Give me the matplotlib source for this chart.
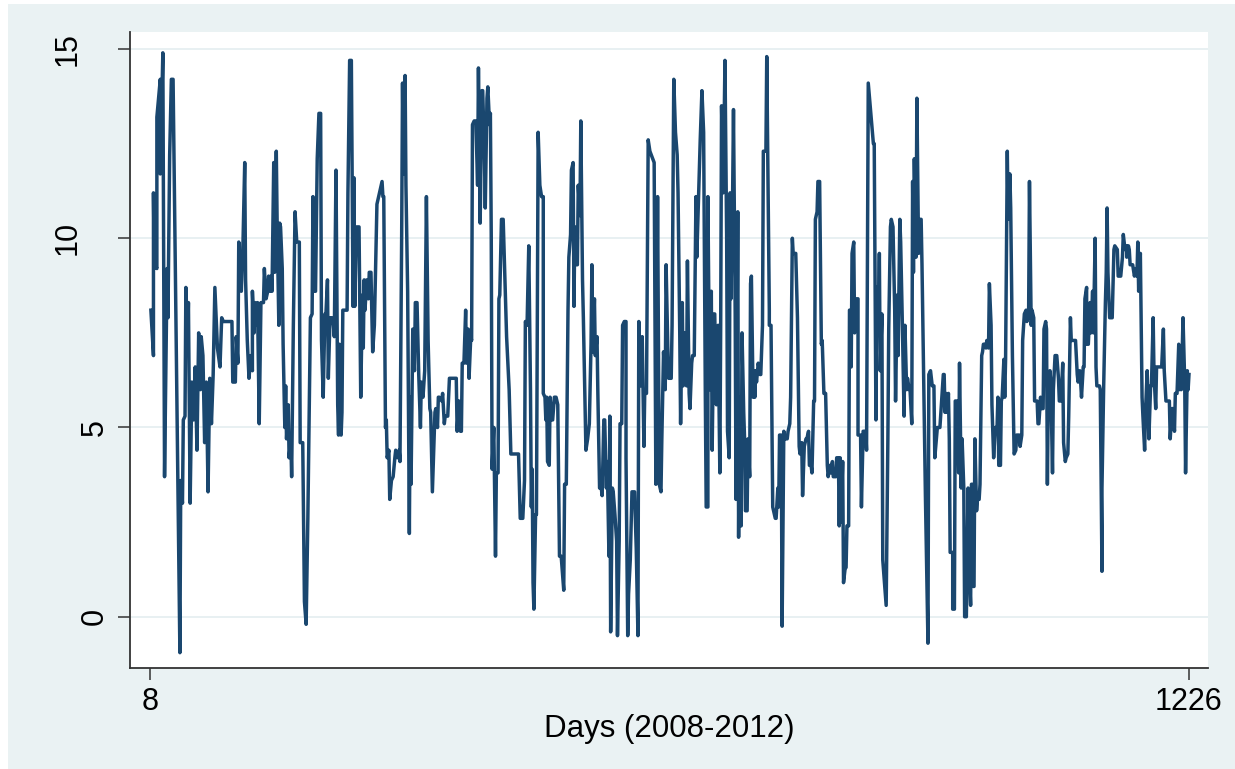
import matplotlib
matplotlib.use("Agg")
import matplotlib.pyplot as plt
from matplotlib.patches import Rectangle

plt.rcParams['font.family'] = ['Liberation Sans', 'DejaVu Sans']

# values, split by stretch of days
days_a = [9, 12, 12, 13, 14, 16, 16, 20, 20, 23, 25, 28, 29, 31, 33, 35, 43, 44, 46, 47,
          49, 50, 52, 53, 55, 57, 59, 61, 63, 65, 67, 68, 70, 72, 74, 76, 78, 80, 82, 84,
          87, 90, 92, 94, 104, 105, 108, 109, 111, 112]
vals_a = [8.1, 6.9, 11.2, 9.2, 9.3, 9.2, 13.2, 14.2, 11.7, 14.9, 3.7, 9.2, 7.9, 12.2, 14.2, 14.2, -0.95, 3.6, 3.0, 5.2,
          5.3, 8.7, 7.4, 8.3, 3.0, 6.2, 5.2, 6.6, 4.4, 7.5, 6.0, 7.4, 6.9, 4.6, 6.2, 3.3, 6.3, 5.1, 6.4, 8.7,
          7.1, 6.6, 7.9, 7.8, 7.8, 6.2, 6.2, 7.4, 6.7, 9.9]

days_b = [115, 117, 119, 120, 122, 124, 126, 128, 128, 130, 131, 133, 134, 136, 138, 141, 142, 144, 146, 147,
          149, 150, 151, 153, 154, 156, 157, 159, 160, 161, 163, 164, 166, 167, 168, 170, 171, 173, 174, 176,
          178, 180, 183, 184, 187, 189, 191, 193, 196, 198, 199, 200, 202, 204, 206, 208, 209, 211, 213, 214,
          216, 217, 219, 221, 223, 224, 226, 228, 229, 230]
vals_b = [8.6, 9.9, 12.0, 8.9, 7.3, 6.3, 6.9, 6.5, 8.6, 7.5, 8.3, 7.7, 8.3, 5.1, 8.3, 8.3, 9.2, 8.4, 8.6, 9.0,
          8.6, 9.0, 8.6, 12.0, 9.1, 12.3, 10.4, 7.7, 10.4, 10.3, 9.2, 7.2, 5.0, 6.1, 4.7, 5.6, 4.2, 4.7, 3.7, 7.7,
          10.7, 9.9, 9.9, 4.6, 4.6, 0.4, -0.2, 2.6, 7.9, 8.0, 11.1, 8.6, 8.6, 12.1, 13.3, 13.3, 7.3, 5.8, 8.0, 7.9,
          8.9, 6.3, 7.9, 7.9, 7.7, 7.4, 11.8, 5.6, 4.8, 7.2]

days_c = [232, 233, 234, 239, 240, 242, 244, 246, 247, 248, 250, 253, 255, 257, 258, 259, 260, 262, 264, 265,
          267, 269, 271, 274, 276, 278, 280, 281, 282, 284, 285, 286, 288, 289, 291, 293, 295, 296, 298, 300,
          301, 303, 304, 305, 307, 308, 310, 312, 313, 314, 316, 318, 319, 321, 323, 325, 326, 328, 330, 332,
          334, 336, 337, 339, 342, 343, 345, 346, 347]
vals_c = [4.8, 5.4, 8.1, 8.1, 11.2, 14.7, 14.7, 8.2, 11.6, 8.2, 10.3, 10.3, 5.8, 8.5, 7.1, 8.9, 8.1, 8.9, 8.4, 9.1,
          9.1, 7.0, 7.7, 10.9, 11.1, 11.3, 11.5, 11.1, 11.1, 5.0, 5.2, 4.2, 4.4, 3.1, 3.6, 3.7, 4.2, 4.4, 4.2, 4.4,
          4.1, 10.1, 14.1, 11.7, 14.3, 11.4, 8.6, 2.2, 5.8, 3.5, 7.6, 6.5, 8.3, 8.3, 6.4, 5.0, 6.2, 5.8, 6.5, 11.1,
          7.3, 5.5, 5.4, 3.3, 5.4, 5.5, 5.0, 5.8, 5.8]

days_d = [350, 351, 353, 354, 357, 359, 362, 367, 368, 370, 372, 373, 374, 376, 378, 379, 381, 382, 384, 385,
          386, 388, 390, 392, 393, 395, 397, 398, 400, 401, 403, 404, 406, 407, 408, 409, 411, 413, 414, 416,
          417, 418, 420, 422, 426, 429, 431, 434, 440, 442, 445, 447, 448, 450, 452, 454, 455, 456, 457, 458,
          460, 461, 463, 465]
vals_d = [5.7, 5.9, 5.1, 5.3, 5.3, 6.3, 6.3, 6.3, 4.9, 5.7, 4.9, 4.9, 6.7, 6.7, 8.1, 6.7, 7.6, 6.3, 7.4, 7.3,
          13.0, 13.1, 13.1, 11.4, 14.5, 10.4, 13.9, 13.9, 12.2, 10.8, 13.7, 14.0, 13.0, 13.3, 10.1, 3.9, 5.0, 1.6, 3.8, 3.8,
          8.4, 8.5, 10.5, 10.5, 7.4, 6.0, 4.3, 4.3, 4.3, 2.6, 2.6, 3.6, 7.8, 7.7, 9.8, 6.0, 2.9, 3.9, 0.9, 0.2,
          2.7, 2.7, 12.8, 11.4]

days_e = [467, 469, 469, 471, 472, 473, 474, 476, 477, 479, 480, 482, 484, 486, 488, 490, 493, 494, 496, 498,
          499, 501, 502, 504, 505, 506, 508, 509, 510, 512, 513, 515, 516, 518, 519, 521, 523, 525, 526, 527,
          529, 530, 532, 533, 535, 537, 538, 540, 541, 543, 544, 546, 547, 548, 550, 551, 553, 555, 556, 558,
          559, 561, 562, 564, 566, 566, 568, 569, 571, 573, 576, 578, 580, 581]
vals_e = [11.1, 11.1, 5.9, 5.8, 5.2, 5.8, 4.1, 4.0, 5.8, 5.2, 5.2, 5.8, 5.8, 5.6, 1.6, 1.6, 0.7, 3.5, 3.5, 8.1,
          9.5, 10.1, 11.8, 12.0, 8.2, 10.3, 9.3, 9.3, 11.4, 10.6, 13.1, 8.9, 7.9, 5.6, 4.4, 4.7, 5.1, 7.2, 9.3, 7.0,
          8.4, 6.9, 7.4, 5.9, 3.4, 3.4, 3.2, 5.2, 5.2, 3.4, 4.1, 1.6, 5.3, -0.4, 3.4, 3.3, 2.7, 2.0, -0.5, 2.0,
          5.1, 5.1, 7.7, 7.8, 7.8, 4.2, -0.5, 0.6, 1.5, 3.3, 3.3, 1.8, -0.5, 7.8]

days_f = [583, 585, 587, 588, 590, 592, 594, 599, 601, 603, 605, 607, 608, 610, 612, 613, 615, 616, 619, 620,
          622, 624, 626, 627, 629, 630, 632, 633, 635, 637, 638, 640, 641, 643, 644, 646, 648, 649, 651, 653,
          655, 657, 659, 660, 662, 662, 664, 666, 667, 669, 670, 672, 673, 674, 676, 677, 678, 680, 682, 684,
          685, 687, 688, 689, 691, 692, 694, 695, 697, 698, 699]
vals_f = [6.1, 7.4, 4.5, 6.0, 5.9, 12.6, 12.3, 12.0, 3.5, 11.1, 3.5, 3.3, 4.7, 7.0, 6.0, 9.3, 7.1, 6.3, 6.3, 7.7,
          14.2, 12.8, 12.2, 11.2, 7.5, 5.1, 8.3, 6.1, 7.5, 6.1, 9.4, 5.9, 5.5, 6.7, 6.9, 6.9, 11.1, 9.5, 11.1, 12.6,
          13.9, 12.8, 5.8, 2.9, 2.9, 11.1, 6.0, 8.6, 4.4, 8.0, 8.0, 5.6, 7.2, 7.7, 3.8, 7.7, 13.5, 11.2, 14.7, 10.0,
          4.9, 4.2, 11.2, 8.4, 11.2, 13.4, 8.0, 3.1, 10.7, 2.1, 5.8]

days_g = [701, 702, 704, 705, 706, 708, 709, 711, 712, 713, 715, 716, 717, 718, 719, 721, 723, 724, 726, 727,
          730, 731, 734, 734, 736, 738, 741, 742, 744, 745, 746, 748, 749, 751, 752, 755, 756, 758, 759, 761,
          762, 765, 767, 769, 770, 772, 773, 775, 777, 778, 780, 781, 783, 784, 786, 787, 788, 790, 791, 793,
          795, 796, 798, 800, 802, 803, 805, 806, 808, 809, 812, 813, 815, 816]
vals_g = [2.4, 7.5, 5.4, 4.7, 2.8, 2.8, 4.7, 3.7, 8.8, 9.0, 5.8, 6.5, 5.8, 6.5, 6.2, 6.7, 6.4, 6.4, 7.7, 12.3,
          12.3, 14.8, 8.1, 7.7, 7.7, 2.9, 2.6, 2.6, 3.4, 2.9, 4.8, 4.8, -0.25, 4.9, 4.7, 4.7, 4.9, 5.1, 5.8, 10.0,
          9.6, 9.6, 7.9, 4.5, 4.3, 4.6, 3.2, 4.5, 4.7, 4.7, 4.9, 4.0, 4.0, 3.8, 5.7, 5.7, 10.5, 10.7, 11.5, 11.5,
          7.2, 7.3, 5.9, 5.9, 4.0, 3.7, 4.0, 3.8, 4.1, 3.7, 3.7, 4.2, 4.2, 2.4]

days_h = [817, 818, 820, 821, 823, 824, 825, 827, 828, 830, 830, 831, 833, 834, 836, 838, 838, 841, 842, 844,
          845, 847, 848, 850, 853, 856, 857, 859, 860, 862, 863, 864, 866, 867, 870, 871, 873, 874, 876, 877,
          879, 881, 882, 884, 885, 887, 888, 890, 892, 893, 895, 896, 898, 899, 901, 902, 903, 904, 906, 907,
          909, 910, 912, 913, 915, 917, 920, 921, 923, 925, 927, 928, 931, 934]
vals_h = [4.2, 2.5, 4.1, 0.9, 1.3, 1.3, 2.4, 2.4, 8.1, 8.1, 6.6, 9.6, 9.9, 7.5, 8.4, 8.4, 4.8, 4.8, 2.9, 4.9,
          4.9, 4.9, 4.4, 14.1, 13.3, 12.5, 12.5, 5.2, 8.7, 7.9, 9.6, 6.5, 8.0, 1.5, 0.6, 0.3, 4.7, 7.6, 10.3, 10.5,
          10.3, 8.1, 5.7, 8.5, 6.9, 10.5, 9.9, 7.7, 5.3, 7.7, 6.0, 6.3, 6.0, 6.0, 5.1, 11.5, 9.1, 12.1, 9.5, 13.7,
          9.6, 10.5, 10.5, 9.3, 6.2, 3.2, -0.7, 6.4, 6.5, 6.1, 6.1, 4.2, 5.0, 5.0]

days_i = [938, 939, 940, 941, 942, 944, 945, 946, 949, 949, 951, 952, 954, 956, 957, 959, 960, 962, 963, 965,
          967, 968, 970, 971, 972, 973, 974, 975, 977, 978, 980, 981, 983, 984, 985, 987, 988, 989, 991, 992,
          994, 995, 997, 999, 1001, 1002, 1003, 1005, 1006, 1007, 1009, 1010, 1011, 1013, 1014, 1016, 1017, 1019, 1021, 1023,
          1024, 1027, 1028, 1030, 1031, 1033, 1035, 1036, 1038, 1039, 1041, 1042, 1044, 1045, 1048, 1049, 1050, 1052, 1053, 1055,
          1056, 1058, 1059, 1060, 1061, 1063, 1064, 1066, 1067, 1069, 1071, 1073, 1074, 1076, 1078, 1079, 1081, 1082, 1084, 1085,
          1087, 1088, 1091, 1093, 1095, 1096, 1098, 1099, 1100, 1102, 1103, 1104, 1106, 1106, 1108, 1110, 1111, 1113, 1114, 1116,
          1117, 1118, 1121, 1122, 1124, 1124, 1126, 1128, 1129, 1130, 1131, 1133, 1136, 1138, 1139, 1142, 1143, 1146, 1148, 1149,
          1151, 1153, 1153, 1155, 1156, 1157, 1160, 1162, 1164, 1165, 1166, 1167, 1169, 1171, 1172, 1174, 1175, 1177, 1179, 1181,
          1182, 1184, 1185, 1187, 1188, 1191, 1192, 1194, 1196, 1197, 1199, 1203, 1204, 1206, 1207, 1209, 1210, 1212, 1214, 1215,
          1216, 1217, 1219, 1221, 1222, 1224, 1225, 1226]
vals_i = [6.4, 6.4, 5.4, 5.9, 5.4, 5.9, 4.7, 1.7, 1.7, 0.2, 0.2, 5.7, 5.7, 3.8, 6.7, 3.4, 4.7, 3.4, 0.0, 0.0,
          3.4, 1.5, 0.3, 3.5, 3.5, 0.8, 0.8, 4.7, 2.8, 3.1, 3.1, 3.5, 6.9, 7.0, 7.2, 7.2, 7.1, 7.3, 7.1, 8.8,
          7.7, 5.6, 4.2, 5.0, 5.0, 5.8, 4.0, 4.0, 5.7, 5.8, 6.8, 5.8, 6.8, 12.3, 10.5, 11.7, 10.8, 6.9, 4.3, 4.4,
          4.8, 4.8, 4.5, 4.8, 7.3, 8.0, 8.1, 7.8, 8.0, 11.5, 7.7, 8.1, 7.9, 5.7, 5.7, 5.1, 5.1, 5.8, 5.5, 5.5,
          7.6, 7.8, 7.6, 3.5, 5.7, 6.5, 6.2, 3.8, 6.0, 6.9, 6.9, 6.3, 5.7, 5.7, 6.7, 4.6, 4.1, 4.2, 4.3, 5.3,
          7.9, 7.3, 7.3, 7.3, 6.4, 6.2, 6.5, 6.2, 5.8, 6.6, 6.6, 8.4, 8.7, 7.2, 7.2, 8.3, 7.5, 8.6, 7.5, 10.0,
          6.6, 6.1, 6.1, 6.0, 1.2, 3.4, 6.1, 8.3, 9.1, 10.8, 9.1, 7.9, 7.9, 9.7, 9.8, 9.7, 9.0, 9.0, 9.5, 10.1,
          9.7, 9.8, 9.5, 9.8, 9.7, 9.3, 9.3, 9.0, 9.2, 9.0, 9.9, 8.6, 9.6, 5.8, 5.3, 4.4, 5.4, 6.5, 4.7, 6.1,
          6.1, 7.9, 6.4, 5.5, 6.6, 6.6, 6.6, 6.6, 7.6, 6.5, 5.7, 5.7, 4.7, 5.5, 5.5, 4.9, 5.9, 5.9, 7.2, 6.0,
          7.1, 6.0, 7.9, 6.2, 3.8, 6.5, 6.0, 6.4]

y_ticks = [0, 5, 10, 15]
x_ticks = [8, 1226]
x_title = 'Days (2008-2012)'

days, values = [], []
for d, v in [(days_a, vals_a), (days_b, vals_b), (days_c, vals_c), (days_d, vals_d), (days_e, vals_e),
             (days_f, vals_f), (days_g, vals_g), (days_h, vals_h), (days_i, vals_i)]:
    assert len(d) == len(v), (len(d), len(v), d[0])
    days += d
    values += v

fig = plt.figure(figsize=(12.35, 7.69), dpi=100, facecolor='white')
fig.patches.append(Rectangle((8 / 1235, 0), 1, 765 / 769, transform=fig.transFigure,
                             facecolor='#EAF2F3', edgecolor='none', zorder=-1))

ax = fig.add_axes([130 / 1235, 101 / 769, 1078 / 1235, 636 / 769])
ax.set_facecolor('white')
ax.plot(days, values, color='#1A476F', lw=2.5, solid_joinstyle='round', zorder=3)

ax.set_xlim(-15.5, 1248.3)
ax.set_ylim(-1.355, 15.45)

for s in ['top', 'right']:
    ax.spines[s].set_visible(False)
for s in ['left', 'bottom']:
    ax.spines[s].set_color('#333333')
    ax.spines[s].set_linewidth(1.3)

ax.set_yticks(y_ticks)
ax.set_yticklabels([])
ax.yaxis.grid(True, color='#E6EFF1', lw=1.3, zorder=0)
ax.tick_params(axis='y', length=8.6, width=1.1, color='#333333', direction='out')
# Stata-like rotated y labels: longer labels sit further left
for t in y_ticks:
    lbl = str(t)
    ax.annotate(lbl, xy=(0, t), xycoords=ax.get_yaxis_transform(),
                xytext=(-(5.8 + 19.4 * len(lbl)), 0), textcoords='offset points',
                rotation=90, ha='center', va='center', fontsize=22)

ax.set_xticks(x_ticks)
ax.set_xticklabels([str(t) for t in x_ticks], fontsize=22)
ax.tick_params(axis='x', length=8.6, width=1.1, color='#333333', direction='out', pad=5)
ax.set_xlabel(x_title, fontsize=22.5, labelpad=-2)

fig.savefig('out.png', dpi=100)
